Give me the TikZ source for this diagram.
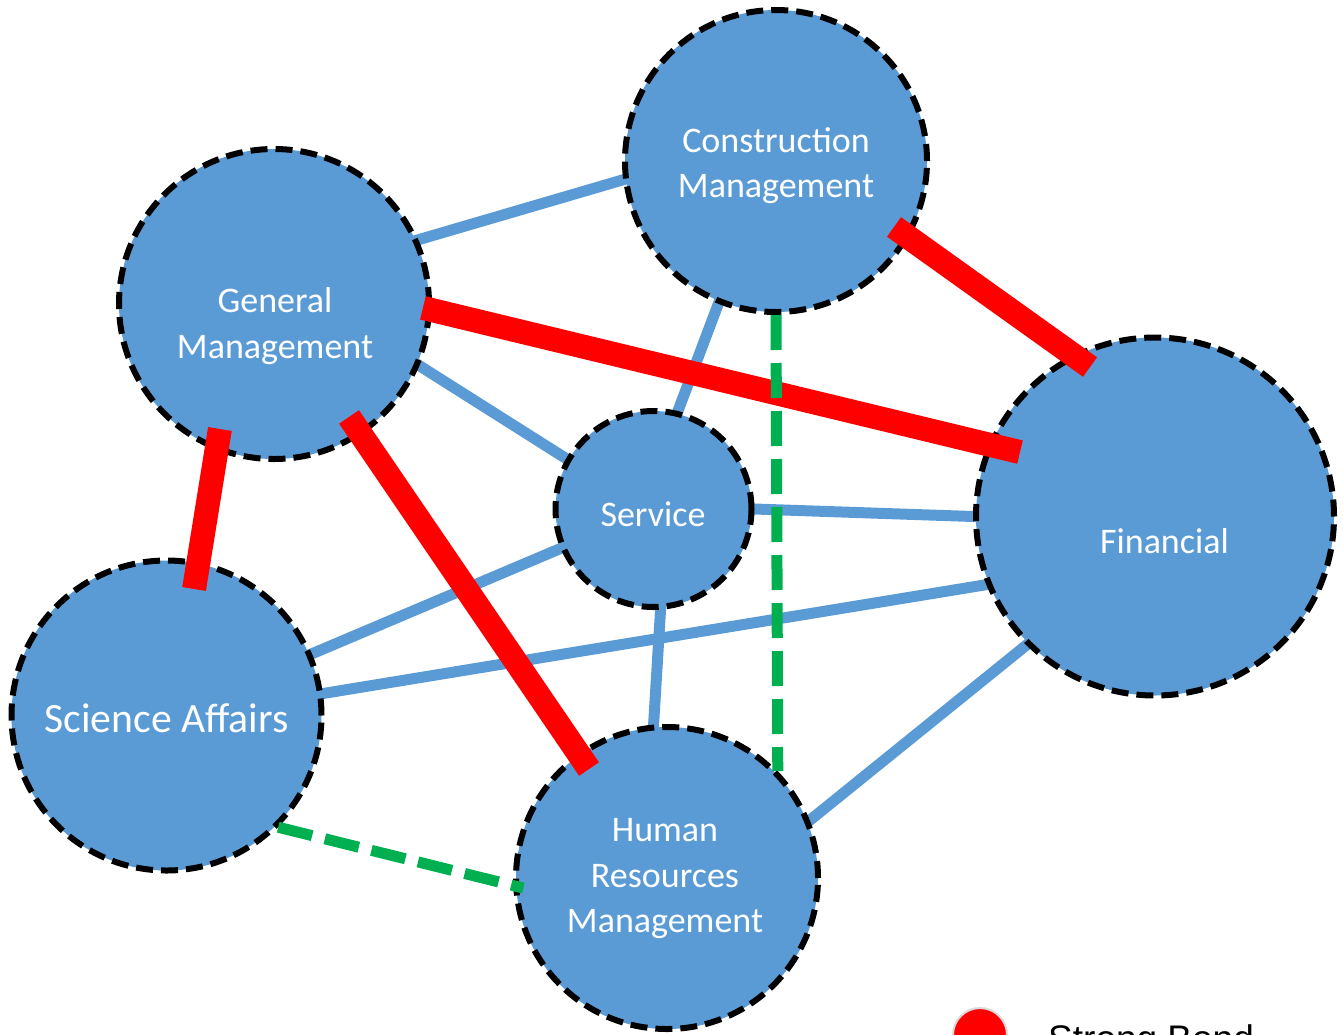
\documentclass[tikz,border=0pt]{standalone}
\usepackage{fontspec}
\setmainfont{Carlito}
\newfontfamily\legendfont{Liberation Sans}
\usetikzlibrary{calc}
\definecolor{nodeblue}{HTML}{5B9BD5}
\definecolor{bondred}{HTML}{FF0000}
\definecolor{weakgreen}{HTML}{00B050}
\pgfdeclarelayer{bg}
\pgfsetlayers{bg,main}
\begin{document}
\begin{tikzpicture}[x=1pt,y=-1pt,
  unit/.style={circle, fill=nodeblue, draw=black, line width=6pt, dash pattern=on 17pt off 8pt, inner sep=0pt},
  lbl/.style={text=white, align=center, font=\fontsize{36}{45.5}\selectfont},
  tie/.style={nodeblue, line width=11pt, shorten <=-6pt, shorten >=-6pt},
  strong/.style={bondred, line width=24pt},
  weak/.style={weakgreen, line width=11pt, dash pattern=on 35pt off 13pt},
]
\useasboundingbox (0,0) rectangle (1343,1034);

% units
\node[unit, minimum size=302pt] (con) at (776,161) {};
\node[unit, minimum size=310pt] (gm) at (274,304) {};
\node[unit, minimum size=196pt] (svc) at (653.5,509) {};
\node[unit, minimum size=358pt] (fin) at (1155,516.5) {};
\node[unit, minimum size=310pt] (sci) at (166.5,715.5) {};
\node[unit, minimum size=302pt] (hr) at (667,878) {};

% ordinary ties (behind the units)
\begin{pgfonlayer}{bg}
\draw[tie] (gm.24.4) -- (con.187.3);
\draw[tie] (gm.-23.7) -- (svc.150);
\draw[tie] (con.248.8) -- (svc.76.5);
\draw[tie] (svc.-0.6) -- (fin.180.5);
\draw[tie] (svc.203.3) -- (sci.23.4);
\draw[tie] (sci.8.2) -- (fin.202);
\draw[tie] (svc.-86.1) -- (hr.95.8);
\draw[tie] (hr.22.1) -- (fin.225.8);
\end{pgfonlayer}

% strong bonds
\draw[strong] ($(gm.center)+(-1.5:149pt)$) -- ($(fin.center)+(154.5:149.6pt)$);
\draw[strong] ($(con.center)+(-29.2:135.2pt)$) -- ($(fin.center)+(113.5:163pt)$);
\draw[strong] ($(gm.center)+(246.6:136.2pt)$) -- ($(sci.center)+(77.7:129.5pt)$);
\draw[strong] ($(gm.center)+(-56.4:135.6pt)$) -- ($(hr.center)+(125.6:134pt)$);

% weak bonds
\draw[weak] (con.-90.2) -- (hr.44.5);
\draw[weak] (sci.-45.3) -- ($(hr.center)+(184:144pt)$);

% labels
\node[lbl] (conText) at (776,165.5) {Construction\\Management};
\node[lbl] (gmText) at (275,326) {General\\Management};
\node[lbl] (svcText) at (653,514.5) {Service};
\node[lbl] (finText) at (1164.5,541) {Financial};
\node[lbl, font=\fontsize{41.7}{50}\selectfont] (sciText) at (166.5,718.5) {Science Affairs};
\node[lbl] (hrText) at (665,879) {Human\\Resources\\Management};

% legend
\node[circle, fill=bondred, draw=black!15, line width=2pt, minimum size=54pt, inner sep=0pt] (legendDot) at (980,1035) {};
\node[anchor=base west, inner sep=0pt, font=\legendfont\fontsize{37}{44}\selectfont] (legendText) at (1048,1051.5) {Strong Bond};
\end{tikzpicture}
\end{document}
